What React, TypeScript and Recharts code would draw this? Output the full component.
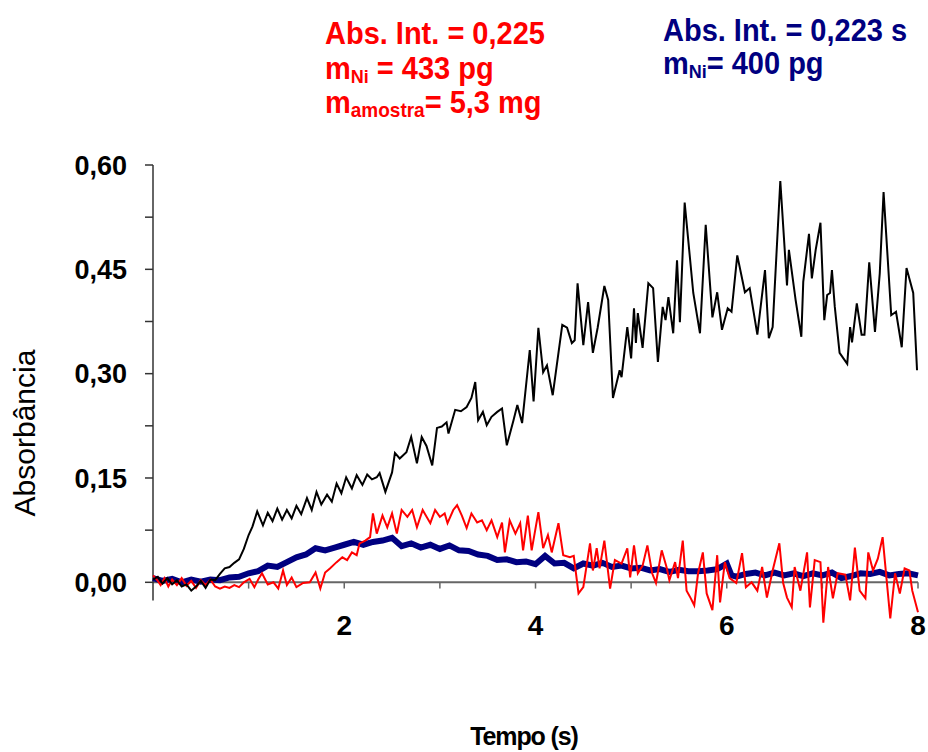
import { LineChart, Line, XAxis, YAxis, ReferenceLine } from "recharts";

const FONT = '"Liberation Sans", Arial, sans-serif';

// black trace (sample)
const blackTime = [
    0, 0.05, 0.1, 0.15, 0.2, 0.25, 0.3, 0.35, 0.4, 0.45,
    0.5, 0.55, 0.6, 0.65, 0.7, 0.75, 0.8, 0.85, 0.9, 0.95,
    1.0, 1.04, 1.09, 1.15, 1.2, 1.25, 1.3, 1.35, 1.4, 1.45,
    1.5, 1.55, 1.61, 1.66, 1.71, 1.76, 1.82, 1.87, 1.92, 1.97,
    2.02, 2.08, 2.13, 2.19, 2.24, 2.29, 2.34, 2.37, 2.43, 2.5,
    2.53, 2.58, 2.65, 2.7, 2.76, 2.81, 2.86, 2.92, 2.97, 3.02,
    3.07, 3.09, 3.16, 3.22, 3.28, 3.33, 3.37, 3.4, 3.45, 3.49,
    3.54, 3.6, 3.65, 3.7, 3.77, 3.81, 3.86, 3.94, 3.98, 4.03,
    4.08, 4.12, 4.18, 4.28, 4.33, 4.38, 4.41, 4.44, 4.5, 4.55,
    4.6, 4.65, 4.72, 4.76, 4.81, 4.88, 4.9, 4.96, 5.0, 5.03,
    5.05, 5.07, 5.12, 5.18, 5.23, 5.28, 5.33, 5.36, 5.39, 5.44,
    5.48, 5.51, 5.56, 5.65, 5.72, 5.78, 5.85, 5.9, 5.95, 6.01,
    6.05, 6.11, 6.19, 6.24, 6.32, 6.4, 6.44, 6.48, 6.56, 6.63,
    6.65, 6.72, 6.78, 6.8, 6.86, 6.89, 6.93, 6.98, 7.02, 7.05,
    7.08, 7.1, 7.13, 7.18, 7.26, 7.29, 7.31, 7.36, 7.41, 7.44,
    7.49, 7.55, 7.6, 7.64, 7.72, 7.77, 7.83, 7.88, 7.95, 7.99
];
const blackAbs = [
    0.004, 0.008, -0.002, 0.006, -0.003, 0.003, -0.006, -0.003, -0.012, -0.006,
    0.002, -0.008, 0.004, 0.003, 0.012, 0.02, 0.022, 0.028, 0.033, 0.048,
    0.068, 0.08, 0.102, 0.082, 0.1, 0.088, 0.106, 0.09, 0.104, 0.092,
    0.11, 0.098, 0.121, 0.104, 0.13, 0.112, 0.126, 0.116, 0.142, 0.128,
    0.151, 0.135, 0.154, 0.14, 0.155, 0.148, 0.151, 0.157, 0.13, 0.158,
    0.186, 0.178, 0.187, 0.209, 0.171, 0.209, 0.196, 0.168, 0.222, 0.224,
    0.23, 0.214, 0.248, 0.246, 0.252, 0.265, 0.288, 0.233, 0.245, 0.226,
    0.238, 0.245, 0.25, 0.197, 0.233, 0.255, 0.229, 0.334, 0.26, 0.366,
    0.302, 0.312, 0.269, 0.37, 0.366, 0.344, 0.348, 0.43, 0.341, 0.403,
    0.33, 0.366, 0.426, 0.406, 0.265, 0.305, 0.295, 0.367, 0.322, 0.394,
    0.344, 0.387, 0.337, 0.43, 0.423, 0.317, 0.396, 0.377, 0.41, 0.358,
    0.463, 0.374, 0.546, 0.416, 0.358, 0.514, 0.381, 0.417, 0.363, 0.394,
    0.389, 0.47, 0.417, 0.423, 0.356, 0.449, 0.351, 0.367, 0.577, 0.427,
    0.478, 0.406, 0.353, 0.432, 0.501, 0.437, 0.478, 0.517, 0.377, 0.413,
    0.416, 0.449, 0.396, 0.33, 0.314, 0.367, 0.345, 0.401, 0.356, 0.356,
    0.46, 0.36, 0.444, 0.561, 0.384, 0.389, 0.338, 0.452, 0.416, 0.305
];

// red trace: 433 pg, 5,3 mg
const redTime = [
    0, 0.04, 0.08, 0.12, 0.16, 0.2, 0.25, 0.3, 0.35, 0.4,
    0.45, 0.5, 0.55, 0.6, 0.65, 0.7, 0.75, 0.8, 0.85, 0.9,
    0.95, 1.01, 1.06, 1.1, 1.14, 1.2, 1.26, 1.31, 1.36, 1.4,
    1.45, 1.5, 1.57, 1.64, 1.7, 1.75, 1.8, 1.85, 1.92, 1.98,
    2.03, 2.08, 2.13, 2.16, 2.22, 2.27, 2.3, 2.34, 2.4, 2.45,
    2.5, 2.55, 2.6, 2.66, 2.71, 2.76, 2.82, 2.9, 2.95, 3.0,
    3.05, 3.08, 3.14, 3.18, 3.23, 3.28, 3.33, 3.39, 3.44, 3.49,
    3.54, 3.6, 3.65, 3.68, 3.73, 3.79, 3.84, 3.87, 3.92, 3.96,
    4.03, 4.08, 4.13, 4.17, 4.24, 4.29, 4.36, 4.4, 4.45, 4.5,
    4.57, 4.6, 4.64, 4.67, 4.72, 4.78, 4.83, 4.9, 4.96, 4.99,
    5.03, 5.07, 5.12, 5.17, 5.22, 5.26, 5.32, 5.37, 5.4, 5.46,
    5.49, 5.54, 5.58, 5.62, 5.66, 5.7, 5.75, 5.79, 5.85, 5.9,
    5.93, 5.98, 6.03, 6.1, 6.16, 6.2, 6.26, 6.32, 6.37, 6.42,
    6.48, 6.55, 6.59, 6.63, 6.68, 6.71, 6.77, 6.84, 6.87, 6.92,
    6.98, 7.01, 7.06, 7.11, 7.16, 7.24, 7.29, 7.34, 7.39, 7.45,
    7.48, 7.53, 7.58, 7.63, 7.71, 7.76, 7.81, 7.86, 7.91, 7.94,
    8.0
];
const redAbs = [
    0.01, 0.004, -0.004, 0.006, -0.006, 0.004, -0.004, 0.006, -0.005, 0.002,
    -0.008, 0.003, -0.004, 0.004, -0.006, -0.009, -0.006, -0.008, -0.004, -0.007,
    0, 0.005, -0.007, 0.004, 0.013, -0.003, 0, -0.009, 0.017, -0.004,
    0.007, -0.007, -0.001, 0, 0.014, -0.009, 0.014, 0.02, 0.029, 0.036,
    0.032, 0.043, 0.039, 0.056, 0.06, 0.065, 0.099, 0.07, 0.096, 0.079,
    0.099, 0.07, 0.104, 0.094, 0.104, 0.079, 0.104, 0.085, 0.104, 0.094,
    0.099, 0.085, 0.104, 0.111, 0.096, 0.078, 0.099, 0.086, 0.089, 0.075,
    0.089, 0.065, 0.086, 0.043, 0.089, 0.07, 0.085, 0.046, 0.096, 0.046,
    0.101, 0.049, 0.068, 0.043, 0.085, 0.039, 0.036, 0.038, -0.016, -0.007,
    0.056, 0.017, 0.049, 0.02, 0.06, -0.009, 0.032, 0.027, 0.049, 0.007,
    0.053, 0.013, 0.024, 0.053, 0.013, -0.001, 0.046, 0.022, 0.003, 0.029,
    0.006, 0.06, -0.012, -0.022, -0.033, 0.013, 0.043, -0.016, -0.04, 0.039,
    -0.029, 0.029, 0.006, -0.001, 0.042, -0.007, 0, -0.012, 0.022, -0.022,
    0.017, 0.056, -0.001, -0.022, -0.036, 0.022, -0.012, 0.043, -0.036, 0.032,
    0.029, -0.058, 0.022, -0.023, 0.013, 0.011, -0.026, 0.05, -0.012, -0.023,
    0.043, 0.017, 0.034, 0.065, -0.052, 0.013, -0.016, 0.02, 0.017, -0.012,
    -0.043
];

// navy trace: 400 pg standard
const blueTime = [
    0, 0.1, 0.2, 0.3, 0.4, 0.5, 0.6, 0.7, 0.8, 0.9,
    1.0, 1.1, 1.2, 1.3, 1.4, 1.5, 1.6, 1.7, 1.8, 1.9,
    2.0, 2.1, 2.2, 2.3, 2.4, 2.5, 2.6, 2.7, 2.8, 2.9,
    3.0, 3.1, 3.2, 3.3, 3.4, 3.5, 3.6, 3.7, 3.8, 3.9,
    4.0, 4.1, 4.2, 4.3, 4.4, 4.5, 4.6, 4.7, 4.8, 4.9,
    5.0, 5.1, 5.2, 5.3, 5.4, 5.5, 5.6, 5.7, 5.8, 5.9,
    6.0, 6.05, 6.1, 6.2, 6.3, 6.4, 6.5, 6.6, 6.7, 6.8, 6.9,
    7.0, 7.1, 7.2, 7.3, 7.4, 7.5, 7.6, 7.7, 7.8, 7.9,
    8.0
];
const blueAbs = [
    0.006, 0.002, 0.005, 0, 0.004, 0.001, 0.004, 0.003, 0.007, 0.008,
    0.013, 0.016, 0.024, 0.022, 0.029, 0.036, 0.04, 0.049, 0.046, 0.05,
    0.054, 0.058, 0.054, 0.058, 0.06, 0.064, 0.052, 0.056, 0.05, 0.054,
    0.048, 0.053, 0.046, 0.045, 0.04, 0.038, 0.032, 0.033, 0.029, 0.03,
    0.026, 0.038, 0.027, 0.028, 0.02, 0.027, 0.024, 0.028, 0.022, 0.024,
    0.02, 0.021, 0.017, 0.019, 0.015, 0.018, 0.016, 0.016, 0.017, 0.019,
    0.027, 0.01, 0.008, 0.012, 0.014, 0.01, 0.014, 0.01, 0.013, 0.009, 0.013,
    0.01, 0.014, 0.006, 0.009, 0.013, 0.012, 0.015, 0.01, 0.012, 0.013,
    0.01
];

const xLabelTicks = [2, 4, 6, 8];
const xMarkTicks = [1, 2, 3, 4, 5, 6, 7, 8];
const yTicks = [0, 0.075, 0.15, 0.225, 0.3, 0.375, 0.45, 0.525, 0.6];
const yLabelTicks = [0, 0.15, 0.3, 0.45, 0.6];

const toPoints = (time: number[], abs: number[]) =>
    time.map((t, i) => ({ t, v: abs[i] }));

const blackData = toPoints(blackTime, blackAbs);
const redData = toPoints(redTime, redAbs);
const blueData = toPoints(blueTime, blueAbs);

function formatY(value: number) {
    if (!yLabelTicks.some((t) => Math.abs(t - value) < 1e-9)) {
        return "";
    }
    return value.toFixed(2).replace(".", ",");
}

const XTick = ({ x, y, payload }: any) => (
    <text x={x} y={y} dy={4} textAnchor="middle" fontFamily={FONT} fontWeight="bold" fontSize={28} fill="#000">
        {payload.value}
    </text>
);

const App = () => {
    return (
        <div style={{ position: "absolute", left: 0, top: 0, width: 928, height: 752, background: "#fff" }}>
            <LineChart
                width={928}
                height={752}
                margin={{ top: 165, right: 10, left: 60, bottom: 101 }}
            >
                <XAxis
                    dataKey="t"
                    type="number"
                    domain={[0, 8]}
                    ticks={xLabelTicks}
                    interval={0}
                    axisLine={false}
                    tickLine={false}
                    tickSize={0}
                    tickMargin={0}
                    height={20}
                    tick={<XTick />}
                    allowDuplicatedCategory={false}
                />
                <YAxis
                    type="number"
                    domain={[-0.07, 0.6]}
                    allowDataOverflow
                    ticks={yTicks}
                    interval={0}
                    width={93}
                    axisLine={false}
                    tickLine={{ stroke: "#333", strokeWidth: 1.5 }}
                    tickSize={8}
                    tickMargin={18}
                    tickFormatter={formatY}
                    tick={{ fontFamily: FONT, fontWeight: "bold", fontSize: 27, fill: "#000" }}
                />
                <ReferenceLine y={0} stroke="#666" strokeWidth={2} />
                <ReferenceLine
                    segment={[{ x: 0, y: -0.026 }, { x: 0, y: 0.6 }]}
                    stroke="#333"
                    strokeWidth={1.5}
                />
                {xMarkTicks.map((t) => (
                    <ReferenceLine
                        key={t}
                        segment={[{ x: t, y: 0 }, { x: t, y: -0.009 }]}
                        stroke="#666"
                        strokeWidth={1.5}
                    />
                ))}
                <Line data={blueData} dataKey="v" type="linear" stroke="#000080" strokeWidth={6} dot={false} activeDot={false} isAnimationActive={false} />
                <Line data={redData} dataKey="v" type="linear" stroke="#ff0000" strokeWidth={2} dot={false} activeDot={false} isAnimationActive={false} />
                <Line data={blackData} dataKey="v" type="linear" stroke="#000000" strokeWidth={2} dot={false} activeDot={false} isAnimationActive={false} />
            </LineChart>
            <svg
                width={928}
                height={752}
                style={{ position: "absolute", left: 0, top: 0, pointerEvents: "none" }}
                fontFamily={FONT}
            >
                <g fontWeight="bold" fill="#ff0000" fontSize={29}>
                    <text transform="translate(325,44) scale(1,1.05)">Abs. Int. = 0,225</text>
                    <text transform="translate(325,79) scale(1,1.05)">
                        m<tspan fontSize={18} dy={4}>Ni</tspan><tspan dy={-4}> = 433 pg</tspan>
                    </text>
                    <text transform="translate(325,113) scale(1,1.05)">
                        m<tspan fontSize={19} dy={4}>amostra</tspan><tspan dy={-4}>= 5,3 mg</tspan>
                    </text>
                </g>
                <g fontWeight="bold" fill="#000080" fontSize={29}>
                    <text transform="translate(663,41) scale(1,1.05)">Abs. Int. = 0,223 s</text>
                    <text transform="translate(663,74) scale(1,1.05)">
                        m<tspan fontSize={18} dy={4}>Ni</tspan><tspan dy={-4}>= 400 pg</tspan>
                    </text>
                </g>
                <text transform="translate(35,433) rotate(-90)" textAnchor="middle" fontSize={30} fill="#000">
                    Absorbância
                </text>
                <text transform="translate(524,745)" textAnchor="middle" fontSize={25} fontWeight="bold" letterSpacing={-1.1} fill="#000">
                    Tempo (s)
                </text>
            </svg>
        </div>
    );
};

export default App;
